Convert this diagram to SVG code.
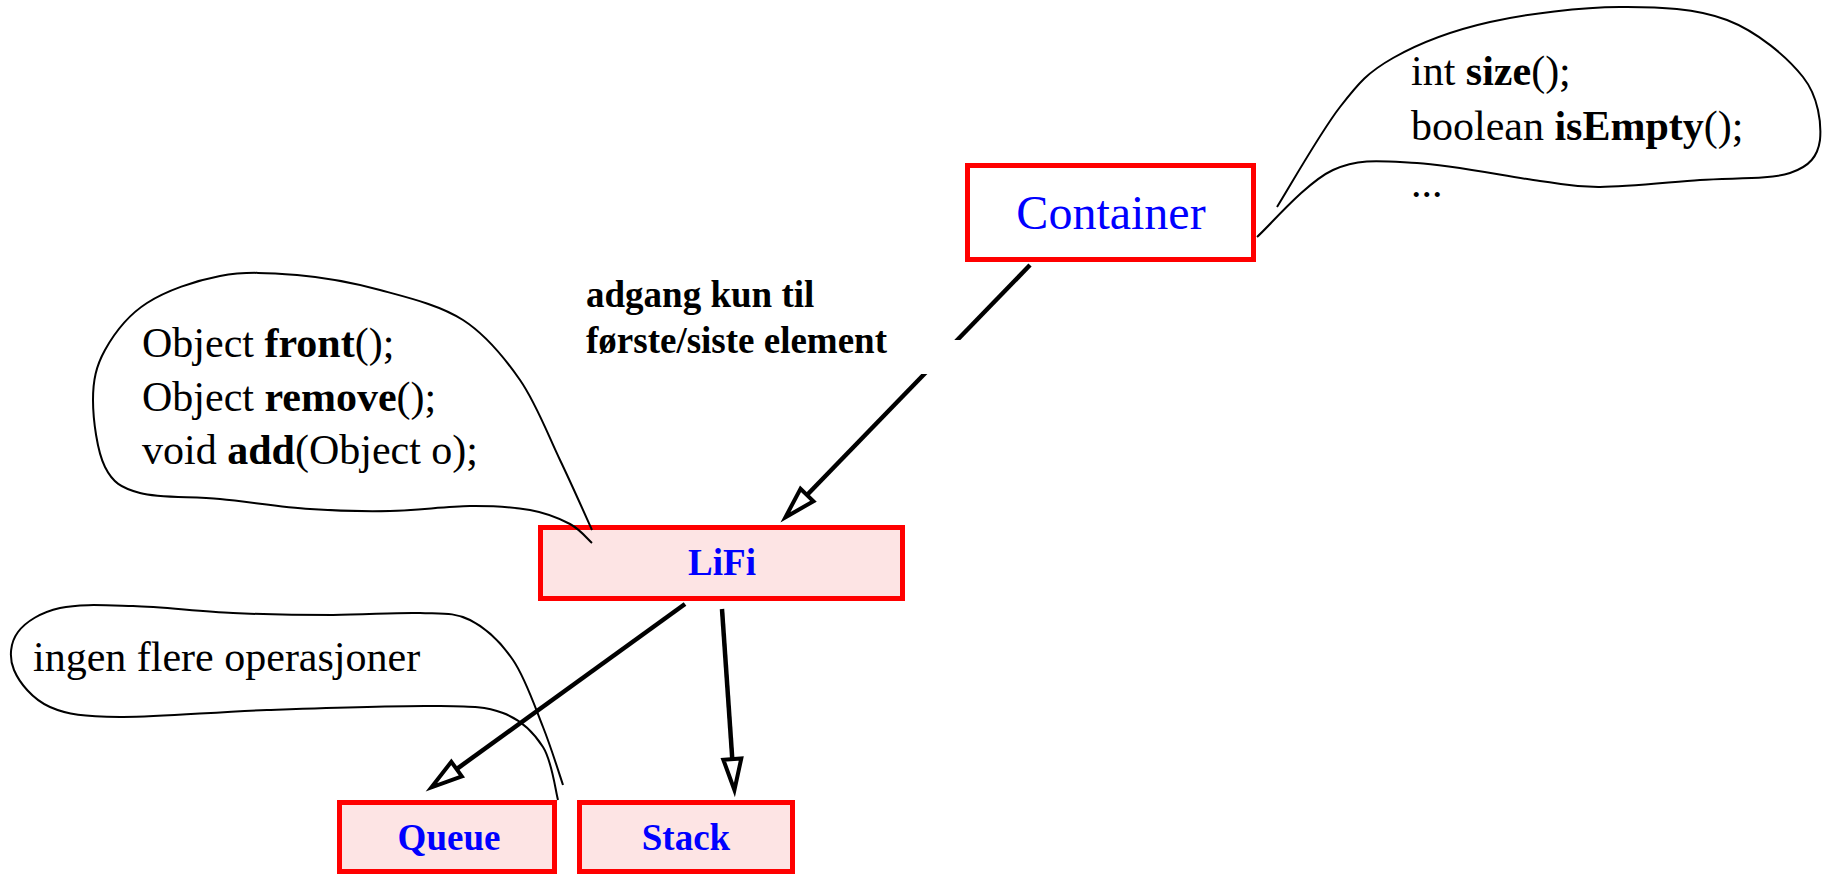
<svg xmlns="http://www.w3.org/2000/svg" width="1823" height="876" viewBox="0 0 1823 876">
  <style>
    .box { stroke: #ff0000; stroke-width: 5; }
    .iface { fill: #ffffff; }
    .cls { fill: #fde4e4; }
    .name { font-family: "Liberation Serif", "Times New Roman", serif; fill: #0000ff; text-anchor: middle; }
    .big { font-size: 48px; }
    .small { font-size: 37px; font-weight: bold; }
    .edge { fill: none; stroke: #000000; stroke-width: 4.5; }
    .bubble { fill: none; stroke: #000000; stroke-width: 2; }
    .note { font-family: "Liberation Serif", "Times New Roman", serif; font-size: 42px; fill: #000000; }
    .label { font-family: "Liberation Serif", "Times New Roman", serif; font-size: 37px; font-weight: bold; fill: #000000; }
    .b { font-weight: bold; }
  </style>
  <defs>
    <marker id="hollow" markerUnits="userSpaceOnUse" markerWidth="46" markerHeight="30" refX="5" refY="15" orient="auto">
      <path d="M5,6 L36,15 L5,24 Z" fill="#ffffff" stroke="#000000" stroke-width="4"/>
    </marker>
  </defs>

  <rect width="1823" height="876" fill="#ffffff"/>

  <!-- class boxes -->
  <g id="container">
    <rect class="box iface" x="967.5" y="165.5" width="286" height="94"/>
    <text class="name big" x="1111" y="229">Container</text>
  </g>
  <g id="lifi">
    <rect class="box cls" x="540.5" y="527.5" width="362" height="71"/>
    <text class="name small" x="722" y="575">LiFi</text>
  </g>
  <g id="queue">
    <rect class="box cls" x="339.5" y="802.5" width="215" height="69"/>
    <text class="name small" x="449" y="850">Queue</text>
  </g>
  <g id="stack">
    <rect class="box cls" x="579.5" y="802.5" width="213" height="69"/>
    <text class="name small" x="686" y="850">Stack</text>
  </g>

  <!-- inheritance arrows -->
  <g id="connectors">
    <path class="edge" d="M1030,265 L807,495" marker-end="url(#hollow)"/>
    <path class="edge" d="M685,604 L456.6,769.1" marker-end="url(#hollow)"/>
    <path class="edge" d="M722,609 L732.3,759.1" marker-end="url(#hollow)"/>
  </g>

  <!-- edge label, with its white backing that breaks the arrow -->
  <g id="access-label">
    <rect x="900" y="340" width="80" height="34" fill="#ffffff"/>
    <text class="label" x="586" y="307">adgang kun til</text>
    <text class="label" x="586" y="353">første/siste element</text>
  </g>

  <!-- callout for Container -->
  <g id="note-container">
    <path class="bubble" d="M1277,207 C1287.5,190.3 1320.7,131.8 1340,107 C1359.3,82.2 1368,72.2 1393,58 C1418,43.8 1452.2,30.5 1490,22 C1527.8,13.5 1580.5,7.3 1620,7 C1659.5,6.7 1696.5,8.3 1727,20 C1757.5,31.7 1787.2,57 1803,77 C1818.8,97 1821.5,124 1820,140 C1817.8,156 1810,166.3 1790,173 C1770,179.7 1731.7,177.7 1700,180 C1668.3,182.3 1626.7,186.8 1600,187 C1573.3,187.2 1570.5,185 1540,181 C1509.5,177 1451.5,164.8 1417,163 C1382.5,161.2 1359.7,157.7 1333,170 C1306.3,182.3 1269.7,225.8 1257,237"/>
    <text class="note" x="1411" y="85">int <tspan class="b">size</tspan>();</text>
    <text class="note" x="1411" y="140">boolean <tspan class="b">isEmpty</tspan>();</text>
    <text class="note" x="1411" y="197">...</text>
  </g>

  <!-- callout for LiFi -->
  <g id="note-lifi">
    <path class="bubble" d="M592,530 C586.7,518.3 572,485 560,460 C548,435 536.2,403.3 520,380 C503.8,356.7 486.3,335 463,320 C439.7,305 407.7,297.5 380,290 C352.3,282.5 323.7,277.3 297,275 C270.3,272.7 245,271.3 220,276 C195,280.7 166.2,290.7 147,303 C127.8,315.3 114,333.8 105,350 C96,366.2 93,380.5 93,400 C93,419.5 97.2,451.5 105,467 C112.8,482.5 120.8,487.7 140,493 C159.2,498.3 191.7,496.3 220,499 C248.3,501.7 281.7,507 310,509 C338.3,511 363.3,511.5 390,511 C416.7,510.5 446.7,506.2 470,506 C493.3,505.8 513.3,507 530,510 C546.7,513 559.7,518.5 570,524 C580.3,529.5 588.3,539.8 592,543"/>
    <text class="note" x="142" y="357">Object <tspan class="b">front</tspan>();</text>
    <text class="note" x="142" y="411">Object <tspan class="b">remove</tspan>();</text>
    <text class="note" x="142" y="464">void <tspan class="b">add</tspan>(Object o);</text>
  </g>

  <!-- callout for Queue -->
  <g id="note-queue">
    <path class="bubble" d="M563,785 C559.7,775.3 551.3,747.8 543,727 C534.7,706.2 525.2,677.8 513,660 C500.8,642.2 485.5,627.8 470,620 C454.5,612.2 442.8,613.8 420,613 C397.2,612.2 364.2,615 333,615 C301.8,615 266.3,614.5 233,613 C199.7,611.5 161.8,606.8 133,606 C104.2,605.2 79.2,603.7 60,608 C40.8,612.3 25.7,621.7 18,632 C10.3,642.3 8.7,657.5 14,670 C19.3,682.5 32.3,699.2 50,707 C67.7,714.8 83.8,716.5 120,717 C156.2,717.5 214.8,711.8 267,710 C319.2,708.2 393.7,705.5 433,706 C472.3,706.5 484.7,706.2 503,713 C521.3,719.8 533.8,732.5 543,747 C552.2,761.5 555.5,791.2 558,800"/>
    <text class="note" x="33" y="671">ingen flere operasjoner</text>
  </g>
</svg>
